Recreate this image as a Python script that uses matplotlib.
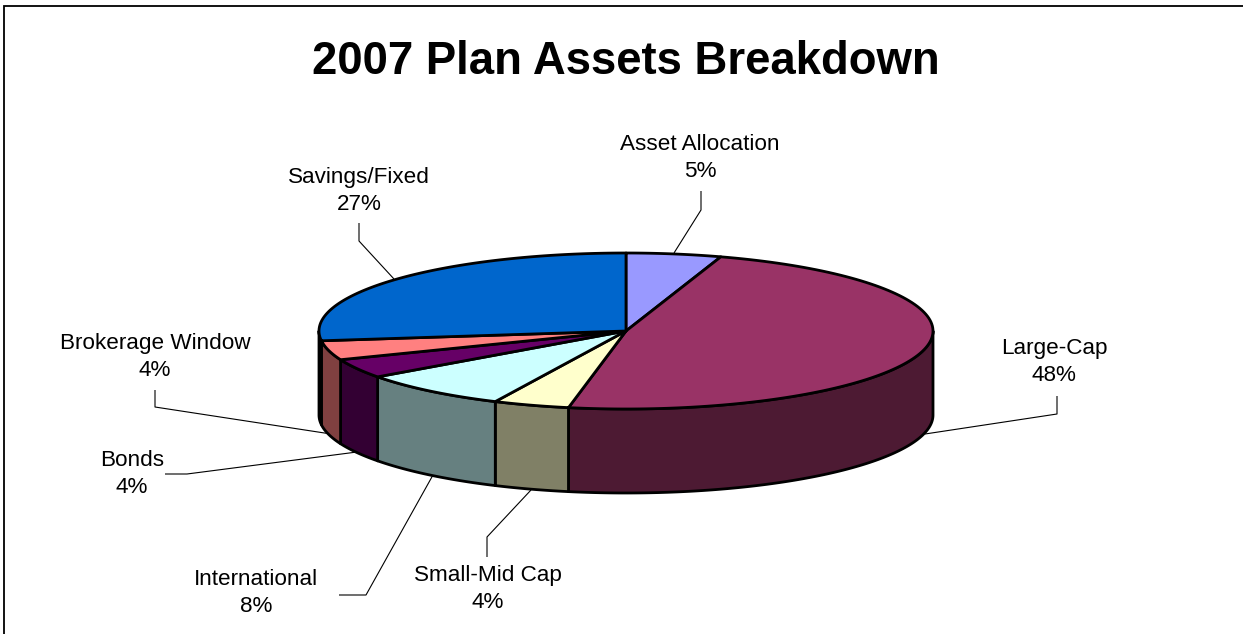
import numpy as np
import matplotlib
matplotlib.use("Agg")
import matplotlib.pyplot as plt
from matplotlib.patches import Polygon

plt.rcParams['font.family'] = ['Liberation Sans', 'DejaVu Sans']

W, H = 1243, 634

# Plan asset shares, clockwise from twelve o'clock
categories = ["Asset Allocation", "Large-Cap", "Small-Mid Cap", "International",
              "Bonds", "Brokerage Window", "Savings/Fixed"]
shares = [5, 48, 4, 8, 4, 4, 27]
top_colors = ["#9999FF", "#993366", "#FFFFCC", "#CCFFFF", "#660066", "#FF8080", "#0066CC"]
side_colors = ["#4D4D80", "#4D1A33", "#808066", "#668080", "#330033", "#804040", "#003366"]

# Label anchors and leader routes, in figure pixels
label_xy = [(700, 158), (1054, 362), (488, 589), (256, 593), (132, 474), (155, 357), (359, 191)]
leaders = [
    [(701, 191), (701, 210), (674, 253)],
    [(1057, 396), (1057, 414), (925, 434)],
    [(487, 557), (487, 537), (531, 490)],
    [(339, 595), (366, 595), (433, 475)],
    [(165, 474), (187, 474), (357, 452)],
    [(155, 390), (155, 407), (331, 434)],
    [(359, 223), (359, 241), (394, 279)],
]

CX, CY, RX, RY, DEPTH = 626, 331, 307, 78, 84

fig = plt.figure(figsize=(W / 100, H / 100), dpi=100)
ax = fig.add_axes([0, 0, 1, 1])
ax.set_xlim(0, W)
ax.set_ylim(H, 0)
ax.axis("off")


def rim(a0, a1, n=120):
    """Points on the top ellipse between two clockwise angles measured from north."""
    t = np.radians(np.linspace(a0, a1, n))
    return CX + RX * np.sin(t), CY - RY * np.cos(t)


edges = np.concatenate([[0], np.cumsum(shares)]) * 3.6
lw = 2.0

# Side wall, only where the rim faces the viewer
for i in range(len(shares)):
    a0, a1 = max(edges[i], 90), min(edges[i + 1], 270)
    if a1 <= a0:
        continue
    x, y = rim(a0, a1)
    pts = np.r_[np.c_[x, y], np.c_[x, y + DEPTH][::-1]]
    ax.add_patch(Polygon(pts, closed=True, fc=side_colors[i], ec="black", lw=lw,
                         joinstyle="round", zorder=2))

# Top face
for i in range(len(shares)):
    x, y = rim(edges[i], edges[i + 1])
    pts = np.r_[[[CX, CY]], np.c_[x, y]]
    ax.add_patch(Polygon(pts, closed=True, fc=top_colors[i], ec="black", lw=lw,
                         joinstyle="round", zorder=3))

# Leader lines
for route in leaders:
    xs, ys = zip(*route)
    ax.plot(xs, ys, color="black", lw=0.8, zorder=1, solid_capstyle="butt")

# Slice labels
for name, share, (lx, ly) in zip(categories, shares, label_xy):
    ax.text(lx, ly, f"{name}\n{share}%", ha="center", va="center", fontsize=16.2,
            linespacing=1.36, color="black", zorder=4)

ax.text(626, 62, "2007 Plan Assets Breakdown", ha="center", va="center",
        fontsize=32.8, fontweight="bold", color="black")

# Chart frame: only the top and left edges fall inside the canvas
ax.plot([4, 4, W], [H, 6, 6], color="black", lw=1.3, solid_joinstyle="miter", zorder=5)

fig.savefig("out.png", dpi=100)
